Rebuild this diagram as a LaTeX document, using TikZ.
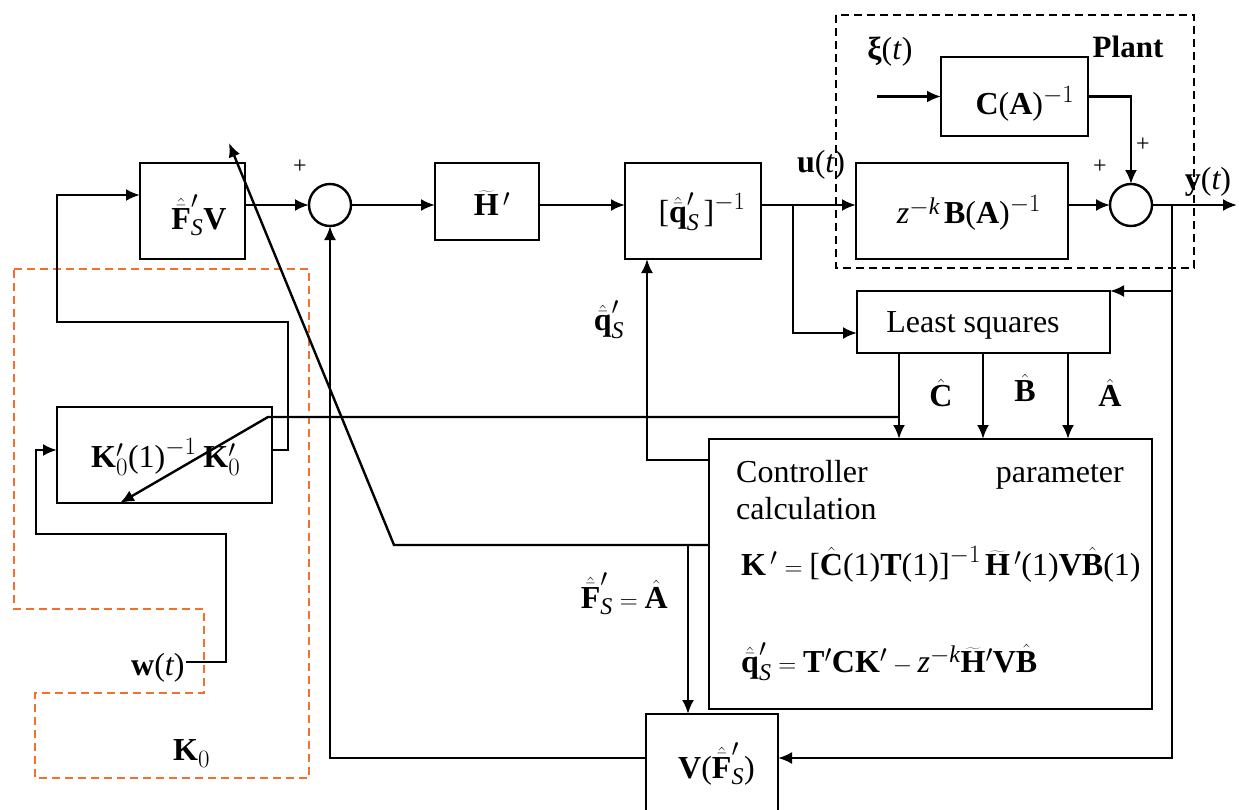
\documentclass[tikz,border=0pt]{standalone}
\usepackage{fontspec}
\setmainfont{Liberation Serif}
\usetikzlibrary{arrows.meta}
\DeclareMathSizes{32}{32}{24}{18}
\definecolor{korange}{RGB}{242,112,45}
\newcommand{\Fbh}{\hat{\bar{\mathbf F}}}
\newcommand{\qbh}{\hat{\bar{\mathbf q}}}
\newcommand{\kxt}[1]{\textnormal{#1}}
\newcommand{\sS}{\mathit{S}}
\begin{document}
\begin{tikzpicture}[x=1pt,y=-1pt,line width=2.4pt,
  blk/.style={draw,line width=2.4pt,inner sep=0pt,outer sep=0pt},
  sumc/.style={draw,circle,minimum size=42pt,inner sep=0pt,outer sep=0pt},
  arr/.style={-{Latex[length=14pt,width=12pt]}},
  lbl/.style={font=\fontsize{32}{38}\selectfont,inner sep=0pt},
  plus/.style={font=\fontsize{24}{28}\selectfont,inner sep=0pt}]
\useasboundingbox (0,0) rectangle (1239,809);
\clip (0,0) rectangle (1239,809);
% boxes
\node[blk,minimum width=105pt,minimum height=96pt] (F) at (192.5,211) {};
\node[sumc] (S1) at (330,205) {};
\node[blk,minimum width=104pt,minimum height=77pt] (H) at (487,201.5) {};
\node[blk,minimum width=136pt,minimum height=96pt] (Q) at (693,211) {};
\node[blk,minimum width=212pt,minimum height=96pt] (B) at (962,211) {};
\node[blk,minimum width=147pt,minimum height=79pt] (C) at (1014.5,96.5) {};
\node[sumc] (S2) at (1131,205) {};
\node[blk,minimum width=253pt,minimum height=62pt] (LS) at (983.5,322) {};
\node[blk,minimum width=443pt,minimum height=270pt] (CT) at (930.5,574) {};
\node[blk,minimum width=132pt,minimum height=110pt,anchor=north west] (V) at (646,714) {};
\node[blk,minimum width=215pt,minimum height=96pt] (K) at (164.5,455) {};
% dashed frames
\draw[dash pattern=on 8pt off 5pt,line width=2.2pt] (836,15) rectangle (1194,268);
\draw[korange,dash pattern=on 8pt off 5pt,line width=2.6pt]
  (14,269) -- (309,269) -- (309,778) -- (35,778) -- (35,693) -- (204,693) -- (204,609) -- (14,609) -- cycle;
% labels in boxes
\node[lbl] (Fl) at (199,215) {$\Fbh'_{\sS}\mathbf V$};
\node[lbl] (Hl) at (492,203) {$\widetilde{\mathbf H}\,'$};
\node[lbl] (Ql) at (702,212) {$\kxt{[}\qbh'_{\sS}\,\kxt{]}^{-1}$};
\node[lbl] (Bl) at (969,213) {$\mathit z^{-\mathit k}\,\mathbf B\kxt{(}\mathbf A\kxt{)}^{-1}$};
\node[lbl] (Cl) at (1025,104) {$\mathbf C\kxt{(}\mathbf A\kxt{)}^{-1}$};
\node[lbl] (LSl) at (973,325) {Least squares};
\node[lbl,anchor=base west] (CT1) at (735,482) {Controller};
\node[lbl,anchor=base east] (CT2) at (1125,482) {parameter};
\node[lbl,anchor=base west] (CT3) at (735,519) {calculation};
\node[lbl,anchor=base west] (CT4) at (740,575) {$\mathbf K\,'=\kxt{[}\hat{\mathbf C}\kxt{(1)}\mathbf T\kxt{(1)]}^{-1}\,\widetilde{\mathbf H}\,'\kxt{(1)}\mathbf V\hat{\mathbf B}\kxt{(1)}$};
\node[lbl,anchor=base west] (CT5) at (740,672) {$\qbh'_{\sS}=\mathbf T'\mathbf C\mathbf K'-\mathit z^{-\mathit k}\widetilde{\mathbf H}'\mathbf V\hat{\mathbf B}$};
\node[lbl,anchor=base west] (Vl) at (677,778) {$\mathbf V\kxt{(}\Fbh'_{\sS}\kxt{)}$};
\node[lbl,anchor=base west] (Kl) at (90,467) {$\mathbf K'_0\kxt{(1)}^{-1}\;\mathbf K'_0$};
% free labels
\node[plus] (p1) at (300,167) {+};
\node[plus] (p2) at (1100,167) {+};
\node[plus] (p3) at (1143,145) {+};
\node[lbl] (ul) at (821,165) {$\mathbf u\kxt{(}\mathit t\kxt{)}$};
\node[lbl] (yl) at (1208,182) {$\mathbf y\kxt{(}\mathit t\kxt{)}$};
\node[lbl] (xil) at (890,52) {\bfseries ξ\mdseries(\textit{t})};
\node[font=\fontsize{31}{36}\selectfont\bfseries,inner sep=0pt] (pl) at (1128,47) {Plant};
\node[lbl] (ql) at (609,320) {$\qbh'_{\sS}$};
\node[lbl] (chl) at (941,393) {$\hat{\mathbf C}$};
\node[lbl] (bhl) at (1025,388) {$\hat{\mathbf B}$};
\node[lbl] (ahl) at (1110,393) {$\hat{\mathbf A}$};
\node[lbl,anchor=base east] (fal) at (669,608) {$\Fbh'_{\sS}=\hat{\mathbf A}$};
\node[lbl,anchor=base west] (wl) at (130,675) {$\mathbf w\kxt{(}\mathit t\kxt{)}$};
\node[lbl,anchor=base west] (k0l) at (172,760) {$\mathbf K_0$};
% coordinates
\coordinate (ub) at (793,205);
\coordinate (xi) at (877,96.5);
\coordinate (yout) at (1237,205);
\coordinate (yb) at (1172,205);
\coordinate (cj) at (899,417);
\coordinate (kd) at (268,417);
\coordinate (fd) at (394,545);
\coordinate (ftip) at (229,143);
\coordinate (fb) at (688,545);
% connectors
\draw[arr] (F.east |- S1.west) -- (S1.west);
\draw[arr] (S1.east) -- (S1.east -| H.west);
\draw[arr] (H.east |- S1.east) -- (S1.east -| Q.west);
\draw[arr] (Q.east |- S1.east) -- (S1.east -| B.west);
\draw[arr] (ub) |- ([yshift=-11pt]LS.west);
\draw[arr] (B.east |- S2.west) -- (S2.west);
\draw[arr] (C.east) -| (S2.north);
\draw[arr] (xi) -- (C.west);
\draw[arr] (S2.east) -- (yout);
\draw[arr] (yb) |- ([yshift=11pt]V.east);
\draw[arr] (yb |- LS.north east) -- (LS.north east);
\foreach \xx in {899,983,1068} \draw[arr] (LS.south -| \xx,0) -- (CT.north -| \xx,0);
\draw[arr] (cj) -- (kd) -- (K.south -| 120,0);
\draw[arr] (CT.west |- 0,460) -| (Q.south -| 647,0);
\draw[arr] (CT.west |- 0,545) -- (fd) -- (ftip);
\draw[arr] (fb) -- (V.north -| fb);
\draw[arr] ([yshift=11pt]V.west) -| (S1.south);
\draw[arr] (K.east |- 0,450) -- (288,450) -- (288,322) -- (57,322) |- (F.west |- 0,195);
\draw[arr] (wl.east |- 0,662) -- (226,662) -- (226,534) -- (36,534) |- (K.west |- 0,450);
\end{tikzpicture}
\end{document}
